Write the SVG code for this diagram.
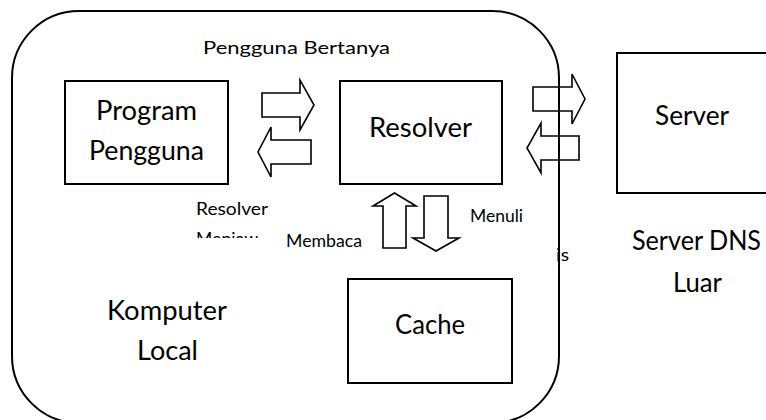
<svg xmlns="http://www.w3.org/2000/svg" width="766" height="420" viewBox="0 0 766 420">
  <defs>
    <style>
      .frame { fill: none; stroke: #000; stroke-width: 2; }
      .box { fill: #fff; stroke: #000; stroke-width: 2; }
      .arrow { fill: none; stroke: #000; stroke-width: 1.6; stroke-linejoin: miter; }
      .big { font-family: Lato, "Liberation Sans", sans-serif; font-size: 26px; fill: #000; }
      .small { font-family: Lato, "Liberation Sans", sans-serif; font-size: 18px; fill: #000; }
    </style>
    <!-- second line of the "Resolver Menjawab" text box is cut by its box edge -->
    <clipPath id="answerClip">
      <rect x="190" y="224" width="100" height="14"/>
    </clipPath>
  </defs>

  <rect width="766" height="420" fill="#fff"/>

  <!-- local computer outline -->
  <g id="komputer-local">
    <rect class="frame" x="12" y="11" width="547" height="412" rx="67" ry="67"/>
    <text class="big" x="107" y="320" textLength="120" lengthAdjust="spacingAndGlyphs">Komputer</text>
    <text class="big" x="137" y="360" textLength="61" lengthAdjust="spacingAndGlyphs">Local</text>
  </g>

  <g id="program-pengguna">
    <rect class="box" x="65" y="81" width="163" height="103"/>
    <text class="big" x="96" y="120" textLength="101" lengthAdjust="spacingAndGlyphs">Program</text>
    <text class="big" x="89" y="160" textLength="115" lengthAdjust="spacingAndGlyphs">Pengguna</text>
  </g>

  <g id="resolver">
    <rect class="box" x="340" y="81" width="162" height="103"/>
    <text class="big" x="369" y="137" textLength="103" lengthAdjust="spacingAndGlyphs">Resolver</text>
  </g>

  <g id="cache">
    <rect class="box" x="348" y="279" width="164" height="104"/>
    <text class="big" x="395" y="334" textLength="70" lengthAdjust="spacingAndGlyphs">Cache</text>
  </g>

  <g id="server-dns-luar">
    <rect class="box" x="617" y="53" width="160" height="140"/>
    <text class="big" x="655" y="125" textLength="74" lengthAdjust="spacingAndGlyphs">Server</text>
    <text class="big" x="632" y="250" textLength="129" lengthAdjust="spacingAndGlyphs">Server DNS</text>
    <text class="big" x="673" y="292" textLength="49" lengthAdjust="spacingAndGlyphs">Luar</text>
  </g>

  <!-- block arrows -->
  <g id="connectors">
    <polygon class="arrow" points="262,93 300,93 300,80 314,105 300,130 300,117 262,117"/>
    <polygon class="arrow" points="311,140 271,140 271,127 258,152 271,177 271,164 311,164"/>
    <polygon class="arrow" points="533,87 572,87 572,74 585,99 572,124 572,111 533,111"/>
    <polygon class="arrow" points="579,136 541,136 541,123 527,148 541,173 541,160 579,160"/>
    <polygon class="arrow" points="383,248 383,206 373,206 394.5,193 416,206 406,206 406,248"/>
    <polygon class="arrow" points="424,196 448,196 448,238 459,238 436,251 413,238 424,238"/>
  </g>

  <!-- connector labels -->
  <g id="labels">
    <text class="small" x="203" y="54" font-size="20" textLength="187" lengthAdjust="spacingAndGlyphs">Pengguna Bertanya</text>
    <text class="small" x="196" y="215" textLength="72" lengthAdjust="spacingAndGlyphs">Resolver</text>
    <text class="small" x="196" y="245" textLength="62" lengthAdjust="spacingAndGlyphs" clip-path="url(#answerClip)">Menjaw</text>
    <text class="small" x="286" y="247" textLength="76" lengthAdjust="spacingAndGlyphs">Membaca</text>
    <text class="small" x="470" y="222" textLength="53" lengthAdjust="spacingAndGlyphs">Menuli</text>
    <text class="small" x="556" y="261" textLength="13" lengthAdjust="spacingAndGlyphs">is</text>
  </g>
</svg>
